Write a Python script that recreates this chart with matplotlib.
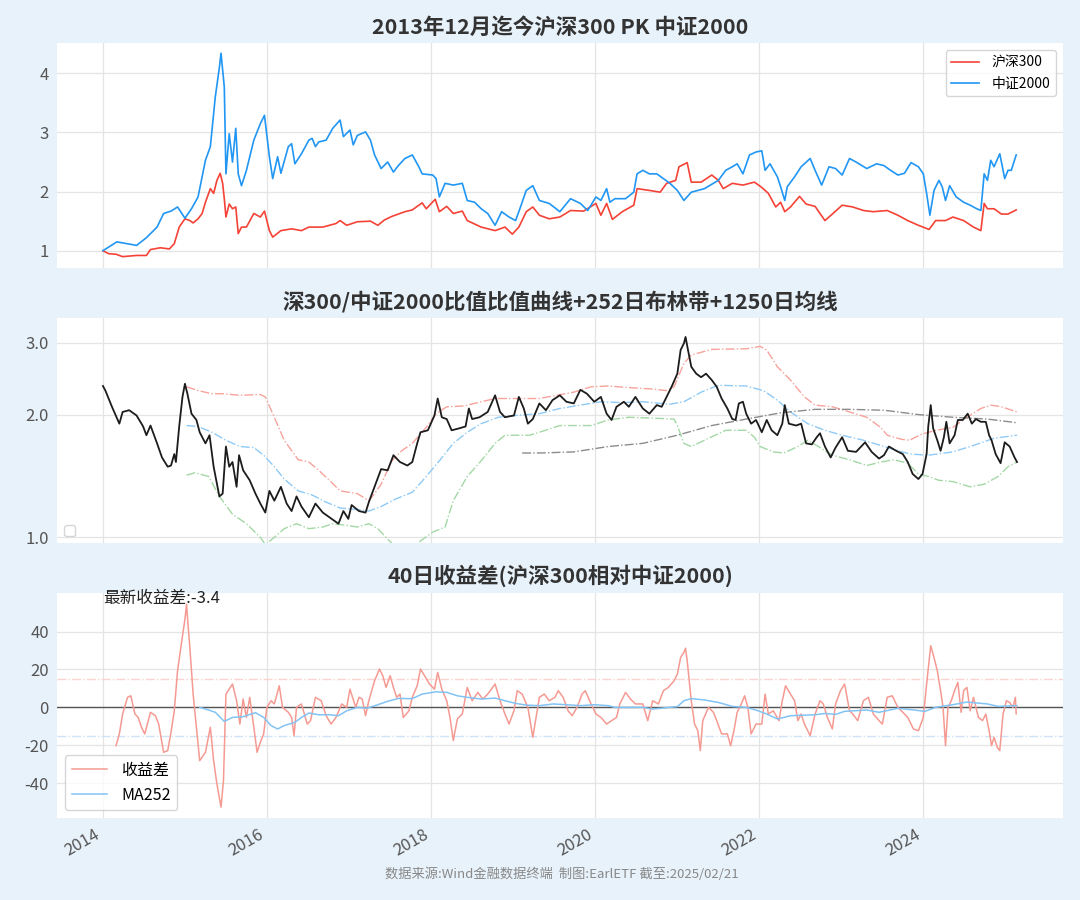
import datetime as dt
import matplotlib
matplotlib.use('Agg')
import matplotlib.pyplot as plt
import matplotlib.dates as mdates
from matplotlib.ticker import FixedLocator, FormatStrFormatter, NullFormatter

plt.rcParams['font.family'] = ['Noto Sans CJK SC', 'DejaVu Sans']
plt.rcParams['axes.unicode_minus'] = False

# (decimal year, value)
hs300 = [(2014.00, 1.00), (2014.07, 0.95), (2014.16, 0.94), (2014.24, 0.90), (2014.41, 0.92), (2014.53, 0.92),
         (2014.58, 1.02), (2014.70, 1.05), (2014.81, 1.03), (2014.87, 1.12), (2014.93, 1.40), (2015.00, 1.54),
         (2015.06, 1.51), (2015.10, 1.47), (2015.16, 1.54), (2015.21, 1.63), (2015.25, 1.82), (2015.31, 2.05),
         (2015.35, 1.97), (2015.39, 2.19), (2015.43, 2.31), (2015.46, 2.14), (2015.48, 1.88), (2015.50, 1.57),
         (2015.54, 1.79), (2015.58, 1.71), (2015.62, 1.74), (2015.65, 1.29), (2015.69, 1.40), (2015.75, 1.40),
         (2015.84, 1.63), (2015.92, 1.57), (2015.97, 1.67), (2016.03, 1.34), (2016.07, 1.23), (2016.17, 1.34),
         (2016.30, 1.37), (2016.42, 1.34), (2016.51, 1.40), (2016.68, 1.40), (2016.84, 1.46), (2016.89, 1.51),
         (2016.97, 1.43), (2017.10, 1.49), (2017.26, 1.50), (2017.35, 1.43), (2017.43, 1.52), (2017.52, 1.58),
         (2017.68, 1.66), (2017.77, 1.69), (2017.89, 1.81), (2017.94, 1.71), (2018.05, 1.87), (2018.10, 1.66),
         (2018.19, 1.75), (2018.27, 1.63), (2018.38, 1.67), (2018.44, 1.51), (2018.61, 1.40), (2018.78, 1.34),
         (2018.90, 1.40), (2018.99, 1.28), (2019.07, 1.40), (2019.16, 1.66), (2019.24, 1.74), (2019.32, 1.60),
         (2019.44, 1.54), (2019.57, 1.57), (2019.70, 1.68), (2019.86, 1.67), (2020.01, 1.80), (2020.07, 1.60),
         (2020.14, 1.80), (2020.21, 1.53), (2020.33, 1.66), (2020.47, 1.77), (2020.51, 2.05), (2020.66, 2.02),
         (2020.79, 1.99), (2020.87, 2.14), (2020.98, 2.19), (2021.02, 2.42), (2021.12, 2.49), (2021.17, 2.16),
         (2021.29, 2.16), (2021.42, 2.28), (2021.50, 2.19), (2021.56, 2.05), (2021.67, 2.14), (2021.80, 2.11),
         (2021.94, 2.16), (2022.03, 2.07), (2022.11, 1.97), (2022.20, 1.74), (2022.26, 1.82), (2022.31, 1.66),
         (2022.38, 1.74), (2022.49, 1.92), (2022.57, 1.79), (2022.68, 1.75), (2022.80, 1.51), (2022.89, 1.62),
         (2023.01, 1.77), (2023.14, 1.74), (2023.27, 1.68), (2023.39, 1.66), (2023.56, 1.68), (2023.69, 1.60),
         (2023.81, 1.51), (2023.94, 1.43), (2024.07, 1.36), (2024.15, 1.51), (2024.27, 1.51), (2024.36, 1.57),
         (2024.49, 1.51), (2024.61, 1.40), (2024.70, 1.34), (2024.74, 1.80), (2024.78, 1.71), (2024.86, 1.71),
         (2024.95, 1.62), (2025.03, 1.62), (2025.13, 1.69)]

csi2000 = [(2014.00, 1.00), (2014.17, 1.15), (2014.41, 1.09), (2014.53, 1.22), (2014.66, 1.40), (2014.74, 1.63),
           (2014.83, 1.67), (2014.91, 1.74), (2015.00, 1.55), (2015.08, 1.71), (2015.16, 1.91), (2015.25, 2.53),
           (2015.31, 2.76), (2015.37, 3.60), (2015.42, 4.10), (2015.44, 4.34), (2015.48, 3.77), (2015.50, 2.30),
           (2015.54, 2.98), (2015.58, 2.50), (2015.62, 3.07), (2015.65, 2.30), (2015.69, 2.10), (2015.75, 2.36),
           (2015.84, 2.87), (2015.92, 3.15), (2015.97, 3.29), (2016.03, 2.59), (2016.07, 2.22), (2016.13, 2.59),
           (2016.17, 2.31), (2016.26, 2.76), (2016.30, 2.81), (2016.34, 2.47), (2016.42, 2.64), (2016.51, 2.87),
           (2016.55, 2.90), (2016.59, 2.76), (2016.63, 2.84), (2016.72, 2.87), (2016.80, 3.07), (2016.89, 3.21),
           (2016.93, 2.93), (2017.01, 3.04), (2017.05, 2.79), (2017.10, 2.95), (2017.20, 3.01), (2017.26, 2.87),
           (2017.31, 2.62), (2017.39, 2.39), (2017.47, 2.50), (2017.54, 2.33), (2017.60, 2.44), (2017.68, 2.56),
           (2017.77, 2.62), (2017.85, 2.42), (2017.89, 2.30), (2018.02, 2.28), (2018.06, 2.22), (2018.10, 1.91),
           (2018.17, 2.14), (2018.27, 2.11), (2018.38, 2.14), (2018.44, 1.85), (2018.53, 1.82), (2018.61, 1.71),
           (2018.69, 1.63), (2018.78, 1.43), (2018.86, 1.66), (2018.95, 1.57), (2019.03, 1.51), (2019.09, 1.74),
           (2019.16, 2.02), (2019.24, 2.10), (2019.32, 1.85), (2019.44, 1.80), (2019.57, 1.66), (2019.70, 1.88),
           (2019.82, 1.80), (2019.91, 1.68), (2020.01, 1.91), (2020.07, 1.85), (2020.14, 2.05), (2020.18, 1.82),
           (2020.24, 1.88), (2020.37, 1.88), (2020.47, 1.99), (2020.51, 2.30), (2020.58, 2.36), (2020.66, 2.30),
           (2020.75, 2.30), (2020.83, 2.22), (2020.91, 2.14), (2021.00, 2.02), (2021.08, 1.85), (2021.17, 1.99),
           (2021.33, 2.05), (2021.50, 2.19), (2021.59, 2.36), (2021.67, 2.42), (2021.73, 2.47), (2021.80, 2.30),
           (2021.88, 2.62), (2021.96, 2.67), (2022.03, 2.69), (2022.07, 2.36), (2022.13, 2.47), (2022.22, 2.25),
           (2022.26, 2.08), (2022.31, 1.85), (2022.34, 2.08), (2022.43, 2.25), (2022.51, 2.42), (2022.62, 2.56),
           (2022.68, 2.36), (2022.76, 2.11), (2022.85, 2.42), (2022.93, 2.39), (2023.01, 2.28), (2023.10, 2.56),
           (2023.18, 2.50), (2023.31, 2.39), (2023.43, 2.47), (2023.52, 2.44), (2023.60, 2.36), (2023.69, 2.28),
           (2023.77, 2.31), (2023.85, 2.49), (2023.94, 2.42), (2024.00, 2.30), (2024.04, 1.97), (2024.08, 1.60),
           (2024.13, 2.02), (2024.19, 2.19), (2024.23, 2.08), (2024.27, 1.85), (2024.32, 2.10), (2024.40, 1.91),
           (2024.49, 1.82), (2024.57, 1.77), (2024.65, 1.71), (2024.70, 1.68), (2024.74, 2.30), (2024.78, 2.19),
           (2024.82, 2.53), (2024.86, 2.42), (2024.93, 2.64), (2024.99, 2.22), (2025.03, 2.36), (2025.07, 2.36),
           (2025.13, 2.62)]

ratio = [(2014.00, 2.35), (2014.03, 2.29), (2014.11, 2.09), (2014.20, 1.90), (2014.24, 2.03), (2014.32, 2.05),
         (2014.41, 1.99), (2014.49, 1.87), (2014.53, 1.78), (2014.58, 1.88), (2014.66, 1.70), (2014.72, 1.57),
         (2014.79, 1.49), (2014.83, 1.50), (2014.87, 1.60), (2014.89, 1.53), (2014.93, 1.87), (2014.97, 2.21),
         (2015.00, 2.38), (2015.03, 2.25), (2015.08, 2.01), (2015.14, 1.94), (2015.18, 1.81), (2015.25, 1.70),
         (2015.30, 1.78), (2015.35, 1.49), (2015.42, 1.26), (2015.46, 1.28), (2015.50, 1.67), (2015.54, 1.49),
         (2015.58, 1.53), (2015.63, 1.33), (2015.66, 1.59), (2015.71, 1.46), (2015.79, 1.38), (2015.86, 1.28),
         (2015.92, 1.21), (2015.98, 1.15), (2016.03, 1.30), (2016.09, 1.23), (2016.17, 1.33), (2016.24, 1.21),
         (2016.30, 1.16), (2016.36, 1.26), (2016.42, 1.19), (2016.51, 1.12), (2016.59, 1.21), (2016.68, 1.15),
         (2016.76, 1.12), (2016.87, 1.08), (2016.93, 1.16), (2016.99, 1.11), (2017.03, 1.20), (2017.12, 1.16),
         (2017.20, 1.15), (2017.24, 1.22), (2017.31, 1.33), (2017.39, 1.47), (2017.47, 1.46), (2017.54, 1.59),
         (2017.62, 1.53), (2017.71, 1.50), (2017.77, 1.53), (2017.83, 1.70), (2017.87, 1.81), (2017.96, 1.83),
         (2018.04, 1.99), (2018.08, 2.19), (2018.13, 1.97), (2018.19, 1.95), (2018.25, 1.83), (2018.34, 1.85),
         (2018.42, 1.87), (2018.46, 2.07), (2018.50, 1.95), (2018.59, 1.97), (2018.69, 2.03), (2018.78, 2.23),
         (2018.84, 2.03), (2018.90, 1.97), (2019.01, 1.99), (2019.07, 2.21), (2019.13, 2.07), (2019.18, 1.90),
         (2019.24, 1.95), (2019.32, 2.13), (2019.40, 2.05), (2019.48, 2.17), (2019.57, 2.23), (2019.65, 2.15),
         (2019.74, 2.13), (2019.82, 2.30), (2019.90, 2.25), (2019.99, 2.15), (2020.07, 2.21), (2020.14, 2.01),
         (2020.20, 1.94), (2020.26, 2.09), (2020.35, 2.15), (2020.41, 2.09), (2020.49, 2.21), (2020.58, 2.07),
         (2020.66, 2.01), (2020.75, 2.11), (2020.81, 2.09), (2020.87, 2.21), (2020.93, 2.34), (2021.00, 2.52),
         (2021.04, 2.88), (2021.08, 2.99), (2021.10, 3.10), (2021.13, 2.88), (2021.17, 2.62), (2021.23, 2.52),
         (2021.29, 2.47), (2021.35, 2.52), (2021.42, 2.43), (2021.48, 2.34), (2021.54, 2.19), (2021.61, 2.07),
         (2021.67, 1.95), (2021.71, 1.94), (2021.75, 2.13), (2021.80, 2.15), (2021.84, 2.01), (2021.90, 1.90),
         (2021.96, 1.94), (2022.03, 1.81), (2022.09, 1.94), (2022.15, 1.83), (2022.22, 1.78), (2022.28, 1.90),
         (2022.31, 2.11), (2022.36, 1.90), (2022.45, 1.88), (2022.51, 1.90), (2022.57, 1.70), (2022.64, 1.69),
         (2022.70, 1.76), (2022.74, 1.80), (2022.80, 1.67), (2022.87, 1.57), (2022.93, 1.66), (2023.01, 1.76),
         (2023.08, 1.63), (2023.18, 1.62), (2023.29, 1.71), (2023.37, 1.62), (2023.46, 1.56), (2023.52, 1.59),
         (2023.58, 1.67), (2023.67, 1.63), (2023.75, 1.60), (2023.81, 1.53), (2023.87, 1.43), (2023.94, 1.39),
         (2023.99, 1.43), (2024.04, 1.60), (2024.06, 1.87), (2024.09, 2.11), (2024.12, 1.85), (2024.17, 1.73),
         (2024.21, 1.63), (2024.25, 1.76), (2024.28, 1.92), (2024.32, 1.70), (2024.38, 1.78), (2024.42, 1.94),
         (2024.48, 1.94), (2024.54, 2.01), (2024.59, 1.90), (2024.64, 1.95), (2024.70, 1.92), (2024.76, 1.92),
         (2024.80, 1.78), (2024.83, 1.73), (2024.88, 1.60), (2024.94, 1.52), (2024.99, 1.71), (2025.05, 1.67),
         (2025.08, 1.62), (2025.11, 1.57), (2025.14, 1.53)]

boll_upper = [(2015.02, 2.34), (2015.16, 2.29), (2015.33, 2.25), (2015.46, 2.25), (2015.67, 2.23), (2015.92, 2.24),
              (2015.98, 2.21), (2016.09, 1.97), (2016.21, 1.73), (2016.38, 1.55), (2016.51, 1.53), (2016.63, 1.46),
              (2016.76, 1.38), (2016.89, 1.30), (2017.10, 1.28), (2017.24, 1.23), (2017.31, 1.28), (2017.39, 1.35),
              (2017.52, 1.54), (2017.64, 1.63), (2017.77, 1.70), (2017.94, 1.86), (2018.06, 2.01), (2018.19, 2.09),
              (2018.40, 2.10), (2018.61, 2.15), (2018.78, 2.19), (2019.03, 2.19), (2019.32, 2.19), (2019.53, 2.23),
              (2019.74, 2.27), (2019.95, 2.34), (2020.16, 2.35), (2020.41, 2.33), (2020.70, 2.31), (2020.87, 2.29),
              (2020.96, 2.34), (2021.08, 2.67), (2021.17, 2.80), (2021.42, 2.89), (2021.84, 2.90), (2022.01, 2.94),
              (2022.09, 2.88), (2022.22, 2.62), (2022.38, 2.43), (2022.55, 2.21), (2022.68, 2.11), (2022.89, 2.09),
              (2023.10, 2.03), (2023.31, 1.97), (2023.48, 1.86), (2023.56, 1.78), (2023.73, 1.74), (2023.83, 1.73),
              (2023.98, 1.79), (2024.15, 1.83), (2024.36, 1.86), (2024.53, 1.97), (2024.70, 2.07), (2024.82, 2.11),
              (2024.95, 2.09), (2025.14, 2.03)]

boll_mid = [(2015.02, 1.88), (2015.16, 1.87), (2015.33, 1.81), (2015.50, 1.73), (2015.67, 1.67), (2015.84, 1.66),
            (2015.96, 1.59), (2016.09, 1.49), (2016.21, 1.39), (2016.38, 1.30), (2016.55, 1.27), (2016.72, 1.22),
            (2016.89, 1.18), (2017.10, 1.17), (2017.24, 1.16), (2017.39, 1.19), (2017.56, 1.24), (2017.77, 1.29),
            (2017.94, 1.41), (2018.10, 1.54), (2018.27, 1.70), (2018.44, 1.81), (2018.61, 1.90), (2018.82, 1.97),
            (2019.03, 1.99), (2019.32, 2.01), (2019.57, 2.07), (2019.82, 2.11), (2020.07, 2.15), (2020.33, 2.14),
            (2020.58, 2.15), (2020.91, 2.12), (2021.08, 2.15), (2021.29, 2.27), (2021.50, 2.36), (2021.84, 2.35),
            (2022.05, 2.29), (2022.22, 2.17), (2022.38, 2.03), (2022.59, 1.90), (2022.80, 1.83), (2023.01, 1.78),
            (2023.27, 1.73), (2023.48, 1.68), (2023.69, 1.63), (2023.85, 1.60), (2024.06, 1.59), (2024.36, 1.62),
            (2024.61, 1.68), (2024.86, 1.75), (2025.14, 1.78)]

boll_lower = [(2015.02, 1.42), (2015.12, 1.44), (2015.29, 1.41), (2015.42, 1.26), (2015.58, 1.14), (2015.75, 1.08),
              (2015.92, 1.00), (2015.98, 0.96), (2016.09, 1.00), (2016.21, 1.05), (2016.36, 1.08), (2016.51, 1.05),
              (2016.68, 1.06), (2016.80, 1.08), (2016.97, 1.07), (2017.10, 1.06), (2017.24, 1.08), (2017.35, 1.05),
              (2017.47, 0.99), (2017.56, 0.95), (2017.71, 0.90), (2017.87, 0.98), (2018.02, 1.03), (2018.17, 1.06),
              (2018.27, 1.23), (2018.44, 1.41), (2018.61, 1.54), (2018.78, 1.70), (2018.90, 1.78), (2019.03, 1.78),
              (2019.20, 1.78), (2019.32, 1.81), (2019.57, 1.88), (2019.74, 1.88), (2019.95, 1.88), (2020.16, 1.94),
              (2020.41, 1.97), (2020.70, 1.96), (2020.96, 1.95), (2021.00, 1.88), (2021.08, 1.70), (2021.17, 1.67),
              (2021.33, 1.73), (2021.59, 1.83), (2021.84, 1.83), (2021.94, 1.76), (2022.01, 1.67), (2022.17, 1.62),
              (2022.30, 1.61), (2022.47, 1.67), (2022.59, 1.73), (2022.72, 1.67), (2022.89, 1.59), (2023.10, 1.55),
              (2023.31, 1.50), (2023.48, 1.53), (2023.64, 1.55), (2023.81, 1.52), (2023.94, 1.43), (2024.06, 1.41),
              (2024.19, 1.38), (2024.36, 1.37), (2024.57, 1.33), (2024.74, 1.35), (2024.91, 1.41), (2025.03, 1.49),
              (2025.14, 1.53)]

ma1250 = [(2019.11, 1.61), (2019.32, 1.61), (2019.74, 1.62), (2020.16, 1.67), (2020.58, 1.70), (2021.00, 1.78),
          (2021.42, 1.88), (2021.84, 1.95), (2022.26, 2.02), (2022.68, 2.06), (2023.10, 2.06), (2023.52, 2.05),
          (2023.94, 2.00), (2024.36, 1.97), (2024.78, 1.95), (2025.14, 1.91)]

ret_diff = [(2014.16, -20.2), (2014.20, -14.0), (2014.24, -3.5), (2014.30, 5.3), (2014.34, 6.1), (2014.39, -3.5),
            (2014.43, -5.3), (2014.47, -10.5), (2014.51, -14.0), (2014.58, -2.6), (2014.64, -4.4), (2014.68, -8.8),
            (2014.74, -23.7), (2014.79, -22.8), (2014.83, -13.2), (2014.87, -1.8), (2014.91, 19.3), (2014.95, 31.6),
            (2015.00, 46.5), (2015.02, 54.4), (2015.04, 42.1), (2015.06, 31.6), (2015.10, 7.0), (2015.14, -10.5),
            (2015.18, -28.1), (2015.25, -23.7), (2015.31, -10.5), (2015.35, -28.1), (2015.39, -40.4), (2015.44, -52.6),
            (2015.47, -38.6), (2015.50, 7.0), (2015.54, 9.6), (2015.58, 12.3), (2015.63, 3.5), (2015.67, -8.8),
            (2015.71, 4.4), (2015.75, -5.3), (2015.79, 5.3), (2015.84, -10.5), (2015.88, -23.7), (2015.92, -18.4),
            (2015.96, -14.0), (2016.00, 0.0), (2016.05, 3.5), (2016.09, 1.8), (2016.15, 11.4), (2016.19, 0.0),
            (2016.26, -2.6), (2016.30, -5.3), (2016.33, -14.9), (2016.36, 0.0), (2016.42, 1.8), (2016.49, -8.8),
            (2016.53, -7.0), (2016.59, 5.3), (2016.66, 3.5), (2016.72, -4.4), (2016.78, -8.8), (2016.84, -5.3),
            (2016.91, 1.8), (2016.97, 0.0), (2017.01, 9.6), (2017.08, 0.0), (2017.12, 5.3), (2017.16, 4.4),
            (2017.20, -4.4), (2017.24, 3.5), (2017.31, 14.0), (2017.37, 20.2), (2017.41, 16.7), (2017.45, 10.5),
            (2017.50, 16.7), (2017.54, 10.5), (2017.58, 5.3), (2017.62, 7.0), (2017.66, -5.3), (2017.73, -1.8),
            (2017.77, 5.3), (2017.83, 11.4), (2017.87, 20.2), (2017.92, 16.7), (2017.98, 12.3), (2018.04, 9.6),
            (2018.08, 18.4), (2018.13, 9.6), (2018.19, 3.5), (2018.23, -5.3), (2018.27, -17.5), (2018.32, -6.1),
            (2018.38, -3.5), (2018.44, 10.5), (2018.50, 3.5), (2018.57, 7.9), (2018.63, 4.4), (2018.69, 7.0),
            (2018.78, 12.3), (2018.84, 3.5), (2018.90, -3.5), (2018.95, -8.8), (2019.01, -1.8), (2019.05, 8.8),
            (2019.11, 7.0), (2019.18, 0.0), (2019.24, -15.8), (2019.32, 5.3), (2019.38, 7.0), (2019.44, 3.5),
            (2019.51, 5.3), (2019.55, 8.8), (2019.61, 5.3), (2019.67, -1.8), (2019.72, -4.4), (2019.78, 0.0),
            (2019.84, 7.0), (2019.88, 8.8), (2019.95, 1.8), (2020.01, -3.5), (2020.07, -5.3), (2020.14, -8.8),
            (2020.20, -7.0), (2020.26, -5.3), (2020.30, 1.8), (2020.37, 7.9), (2020.43, 4.4), (2020.49, 1.8),
            (2020.58, 1.8), (2020.64, -7.0), (2020.70, 3.5), (2020.77, 1.8), (2020.83, 8.8), (2020.89, 10.5),
            (2020.96, 14.0), (2021.00, 17.5), (2021.04, 26.3), (2021.08, 29.0), (2021.10, 31.2), (2021.12, 24.6),
            (2021.17, 3.5), (2021.21, -8.8), (2021.25, -12.3), (2021.28, -22.8), (2021.31, -7.0), (2021.38, 0.0),
            (2021.44, -2.6), (2021.48, -7.0), (2021.54, -14.0), (2021.61, -14.0), (2021.65, -20.2), (2021.69, -12.3),
            (2021.73, -2.6), (2021.78, 1.8), (2021.82, 6.1), (2021.86, 0.0), (2021.90, -14.0), (2021.96, -8.8),
            (2022.03, -8.8), (2022.07, 7.0), (2022.11, -3.5), (2022.17, -1.8), (2022.24, -7.0), (2022.28, 3.5),
            (2022.32, 11.4), (2022.38, 7.0), (2022.43, 3.5), (2022.47, -7.0), (2022.51, -3.5), (2022.55, -8.8),
            (2022.62, -14.9), (2022.68, -3.5), (2022.74, 3.5), (2022.78, 1.8), (2022.83, -5.3), (2022.89, -11.4),
            (2022.93, 1.8), (2022.99, 8.8), (2023.04, 12.3), (2023.10, -1.8), (2023.14, -3.5), (2023.20, -7.0),
            (2023.27, 3.5), (2023.33, 5.3), (2023.39, -3.5), (2023.46, -7.0), (2023.50, -8.8), (2023.56, 5.3),
            (2023.62, 6.1), (2023.69, 0.0), (2023.75, -2.6), (2023.81, -5.3), (2023.88, -11.4), (2023.94, -12.3),
            (2024.00, -5.3), (2024.04, 12.3), (2024.09, 32.5), (2024.13, 26.3), (2024.17, 19.3), (2024.21, 8.8),
            (2024.24, 0.0), (2024.27, -20.2), (2024.30, 0.0), (2024.34, 3.5), (2024.38, 8.8), (2024.42, 13.2),
            (2024.46, -2.6), (2024.49, 8.8), (2024.53, 10.5), (2024.57, -1.8), (2024.61, 5.3), (2024.67, -5.3),
            (2024.72, -7.0), (2024.76, -3.5), (2024.80, -12.3), (2024.83, -20.2), (2024.86, -15.8), (2024.90, -21.1),
            (2024.93, -22.8), (2024.97, -3.5), (2025.01, 3.5), (2025.05, 2.6), (2025.09, 0.0), (2025.12, 5.3),
            (2025.13, -3.4)]

ma252 = [(2015.18, 0.0), (2015.29, -1.4), (2015.37, -2.6), (2015.48, -7.4), (2015.58, -5.3), (2015.71, -4.9),
         (2015.86, -2.8), (2015.96, -5.3), (2016.05, -9.6), (2016.13, -11.4), (2016.21, -9.6), (2016.34, -7.9),
         (2016.42, -5.3), (2016.51, -3.0), (2016.63, -3.9), (2016.76, -3.9), (2016.87, -4.4), (2016.97, -1.8),
         (2017.10, 0.0), (2017.22, -0.4), (2017.35, 1.4), (2017.47, 3.2), (2017.60, 4.7), (2017.77, 4.6),
         (2017.89, 7.0), (2018.06, 8.2), (2018.19, 7.9), (2018.32, 6.1), (2018.44, 5.3), (2018.61, 4.4),
         (2018.78, 4.9), (2018.90, 3.5), (2019.03, 2.1), (2019.16, 1.2), (2019.32, 0.9), (2019.49, 1.8),
         (2019.65, 1.4), (2019.82, 0.9), (2019.99, 1.4), (2020.16, 0.9), (2020.24, 0.0), (2020.58, 0.0),
         (2020.70, -0.9), (2021.00, 0.4), (2021.08, 3.5), (2021.17, 4.6), (2021.33, 3.9), (2021.50, 2.6),
         (2021.67, 0.5), (2021.84, 0.0), (2021.96, -1.4), (2022.09, -3.5), (2022.22, -6.1), (2022.30, -5.3),
         (2022.38, -4.4), (2022.68, -3.9), (2022.80, -3.2), (2022.93, -3.7), (2023.04, -2.1), (2023.31, -1.4),
         (2023.46, -2.6), (2023.69, -0.5), (2023.85, -1.2), (2024.02, -2.1), (2024.15, 0.0), (2024.36, 1.4),
         (2024.53, 2.8), (2024.78, 1.8), (2024.91, 0.5), (2025.14, 0.9)]

latest_diff = -3.4
titles = ['2013年12月迄今沪深300 PK 中证2000',
          '深300/中证2000比值比值曲线+252日布林带+1250日均线',
          '40日收益差(沪深300相对中证2000)']
source_note = '数据来源:Wind金融数据终端  制图:EarlETF 截至:2025/02/21'


def to_series(pairs):
    dates, vals = [], []
    for y, v in pairs:
        y0 = int(y)
        a = dt.datetime(y0, 1, 1)
        b = dt.datetime(y0 + 1, 1, 1)
        dates.append(a + (y - y0) * (b - a))
        vals.append(v)
    return dates, vals


bg = '#e8f2fb'
fig, (ax1, ax2, ax3) = plt.subplots(3, 1, figsize=(10.8, 9), dpi=100, sharex=True, facecolor=bg)
fig.subplots_adjust(left=0.053, right=0.984, top=0.952, bottom=0.091, hspace=0.22)

for ax in (ax1, ax2, ax3):
    ax.set_facecolor('white')
    for s in ax.spines.values():
        s.set_visible(False)
    ax.grid(True, color='#e4e4e4', lw=0.9)
    ax.set_axisbelow(True)
    ax.tick_params(length=0, labelsize=12, labelcolor='#555555', pad=6)

# top: normalised index levels
d, v = to_series(hs300)
ax1.plot(d, v, color='#f44336', lw=1.2, label='沪深300')
d, v = to_series(csi2000)
ax1.plot(d, v, color='#2196f3', lw=1.2, label='中证2000')
ax1.set_ylim(0.70, 4.51)
ax1.set_yticks([1, 2, 3, 4])
ax1.legend(loc='upper right', fontsize=10, frameon=True, edgecolor='#cccccc',
           handlelength=2.0, handletextpad=0.9)
ax1.set_title(titles[0], fontsize=15.5, fontweight='bold', color='#333333', pad=7)

# middle: ratio with bollinger band and long MA
ax2.set_yscale('log')
d, v = to_series(boll_upper)
ax2.plot(d, v, color='#f7a39c', lw=1.0, ls='-.')
d, v = to_series(boll_mid)
ax2.plot(d, v, color='#8fcaf6', lw=1.0, ls='-.')
d, v = to_series(boll_lower)
ax2.plot(d, v, color='#a3d8a5', lw=1.0, ls='-.')
d, v = to_series(ma1250)
ax2.plot(d, v, color='#8c8c8c', lw=1.0, ls='-.')
d, v = to_series(ratio)
ax2.plot(d, v, color='#1c1c1c', lw=1.3)
ax2.set_ylim(0.967, 3.45)
ax2.yaxis.set_major_locator(FixedLocator([1.0, 2.0, 3.0]))
ax2.yaxis.set_major_formatter(FormatStrFormatter('%.1f'))
ax2.yaxis.set_minor_formatter(NullFormatter())
ax2.tick_params(which='minor', length=0)
ax2.legend(handles=[], loc='lower left', frameon=True, edgecolor='#cccccc')
ax2.set_title(titles[1], fontsize=15.5, fontweight='bold', color='#333333', pad=7)

# bottom: 40-day return spread
ax3.axhline(15, color='#fbd3cf', lw=1.0, ls='-.')
ax3.axhline(-15, color='#cfe3f7', lw=1.0, ls='-.')
ax3.axhline(0, color='#555555', lw=1.0)
d, v = to_series(ret_diff)
ax3.plot(d, v, color='#f59a92', lw=1.1, label='收益差')
d, v = to_series(ma252)
ax3.plot(d, v, color='#82c3f4', lw=1.1, label='MA252')
ax3.set_ylim(-58.4, 60.4)
ax3.set_yticks([-40, -20, 0, 20, 40])
ax3.legend(loc='lower left', fontsize=11.5, frameon=True, edgecolor='#cccccc',
           handlelength=2.2, handletextpad=0.9)
ax3.set_title(titles[2], fontsize=15.5, fontweight='bold', color='#333333', pad=7)
d0, _ = to_series(ratio[:1])
ax3.text(d0[0], 53, '最新收益差:%.1f' % latest_diff, fontsize=12, color='#222222', va='bottom', ha='left')

ax3.xaxis.set_major_locator(mdates.YearLocator(2))
ax3.xaxis.set_major_formatter(mdates.DateFormatter('%Y'))
plt.setp(ax3.get_xticklabels(), rotation=30, ha='right')

fig.text(0.52, 0.025, source_note, ha='center', fontsize=9.5, color='#888888')

fig.savefig('out.png', dpi=100, facecolor=bg)
